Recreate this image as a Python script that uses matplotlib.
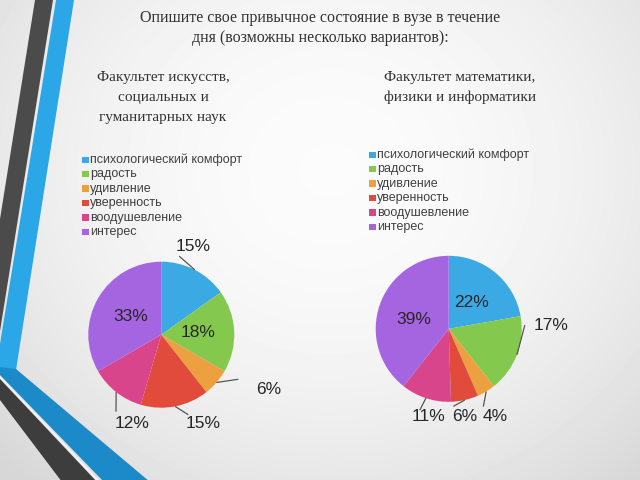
import numpy as np
import matplotlib
matplotlib.use("Agg")
import matplotlib.pyplot as plt
from matplotlib.patches import Polygon, Rectangle

# ---------------- data ----------------
categories = ["психологический комфорт", "радость", "удивление",
              "уверенность", "воодушевление", "интерес"]
arts_values = [15, 18, 6, 15, 12, 33]
math_values = [22, 17, 4, 6, 11, 39]
title_lines = ["Опишите свое привычное состояние в вузе в течение",
               "дня (возможны несколько вариантов):"]
arts_title = ["Факультет искусств,", "социальных и", "гуманитарных наук"]
math_title = ["Факультет математики,", "физики и информатики"]

colors = ["#3aa9e4", "#84c94e", "#eda040", "#e04b3c", "#d9458a", "#a665e0"]

W, H = 640, 480
def Y(y):
    return H - y

fig = plt.figure(figsize=(6.4, 4.8), dpi=100)
ax = fig.add_axes([0, 0, 1, 1])
ax.set_xlim(0, W)
ax.set_ylim(0, H)
ax.axis("off")

# background gradient
yy, xx = np.mgrid[0:H, 0:W]
d = np.sqrt(((xx - 330) / 420.0) ** 2 + ((yy - 170) / 380.0) ** 2)
bg = np.clip(0.985 - 0.12 * d ** 2, 0.84, 1.0)
ax.imshow(bg, cmap="gray", vmin=0, vmax=1, extent=(0, W, 0, H),
          origin="upper", zorder=0, aspect="auto", interpolation="bilinear")

# decorative stripes (pixel coords, y down)
def poly(pts, color, z=1):
    ax.add_patch(Polygon([(x, Y(y)) for x, y in pts], closed=True,
                         facecolor=color, edgecolor="none", zorder=z))

poly([(35, 0), (53, 0), (0, 331), (0, 219)], "#4b4b4b")
poly([(56, 0), (74, 0), (16, 370), (0, 370), (0, 344)], "#2ba6e6")
poly([(0, 367), (16, 369), (150, 482), (104, 482), (0, 375)], "#1c8ac9")
poly([(0, 376), (101, 482), (98, 482), (0, 378)], "#f4f4f4")
poly([(0, 379), (97, 482), (62, 482), (0, 400)], "#3d3d3d")

# titles
serif = ["Liberation Serif", "DejaVu Serif"]
ax.text(320, Y(18), title_lines[0], ha="center", va="center",
        fontsize=11.5, family=serif, color="#333333")
ax.text(320, Y(38), title_lines[1], ha="center", va="center",
        fontsize=11.5, family=serif, color="#333333")
for i, t in enumerate(arts_title):
    ax.text(163, Y(78 + i * 19.5), t, ha="center", va="center",
            fontsize=11, family=serif, color="#333333")
for i, t in enumerate(math_title):
    ax.text(460, Y(78 + i * 19.5), t, ha="center", va="center",
            fontsize=11, family=serif, color="#333333")

sans = ["Liberation Sans", "DejaVu Sans"]

def legend(x0, y0):
    for i, c in enumerate(categories):
        y = y0 + i * 14.4
        ax.add_patch(Rectangle((x0, Y(y) - 3), 6.5, 6.5, facecolor=colors[i],
                               edgecolor="none", zorder=3))
        ax.text(x0 + 8, Y(y), c, ha="left", va="center", fontsize=9,
                family=sans, color="#404040", zorder=3)

legend(82, 160)
legend(369, 155)

def draw_pie(values, cx, cy, r, dist, dtheta, leader_end):
    wedges, _ = ax.pie(values, colors=colors, startangle=90, counterclock=False,
                       center=(cx, Y(cy)), radius=r, frame=True,
                       wedgeprops=dict(linewidth=0))
    for w in wedges:
        w.set_zorder(2)
    total = float(sum(values))
    cum = 0.0
    for i, v in enumerate(values):
        mid = 90 - (cum + v / 2.0) / total * 360.0
        cum += v
        ang = np.deg2rad(mid + dtheta[i])
        lx = cx + dist[i] * r * np.cos(ang)
        ly = Y(cy) + dist[i] * r * np.sin(ang)
        ax.text(lx, ly, f"{v}%", ha="center", va="center", fontsize=12.5,
                family=sans, color="#262626", zorder=4)
        if leader_end[i] is not None:
            m = np.deg2rad(mid)
            sx = cx + r * np.cos(m)
            sy = Y(cy) + r * np.sin(m)
            ex, ey = lx + leader_end[i][0], ly - leader_end[i][1]
            ax.plot([sx, ex], [sy, ey], color="#555555",
                    lw=0.9, zorder=3, solid_capstyle="butt")

draw_pie(arts_values, 161.3, 334.7, 73,
         [1.28, 0.5, 1.65, 1.34, 1.28, 0.49],
         [7.3, 0, 13.6, 14.5, 19.7, 0],
         [(-14, 9.3), None, (-30, -10.7), (-15, -8.3), (-15.7, -11.6), None])
draw_pie(math_values, 448.7, 328.8, 73,
         [0.48, 1.41, 1.36, 1.22, 1.24, 0.5],
         [-1, 23, -3.1, -2.2, 5, 5],
         [None, (-26.7, 0), (-11.7, -10), (-11.7, -10), (-8.3, -6.7), None])

ax.set_xlim(0, W)
ax.set_ylim(0, H)
ax.axis("off")

fig.savefig("out.png", dpi=100)
